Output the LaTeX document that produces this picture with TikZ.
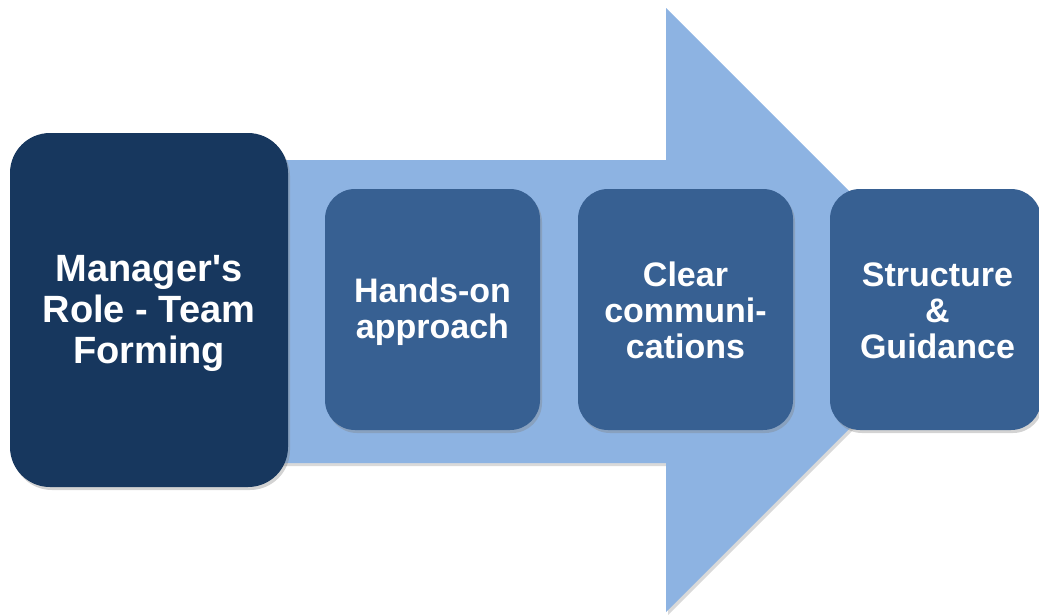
\documentclass[tikz,border=0pt]{standalone}
\usepackage{fontspec}
\setmainfont{Liberation Sans}
\usetikzlibrary{shadows}
\definecolor{arrowblue}{RGB}{141,179,226}
\definecolor{darknavy}{RGB}{23,55,94}
\definecolor{midblue}{RGB}{55,96,146}
\tikzset{
  stepbox/.style={rectangle, rounded corners=30pt, fill=midblue, draw=none,
    minimum width=215pt, minimum height=241pt, inner sep=0pt,
    drop shadow={opacity=0.35, shadow xshift=2pt, shadow yshift=-3pt}},
  mainbox/.style={stepbox, fill=darknavy, rounded corners=40pt,
    minimum width=278pt, minimum height=354pt},
  steptext/.style={text=white, align=center, inner sep=0pt,
    font=\bfseries\fontsize{34}{36}\selectfont},
  maintext/.style={steptext, font=\bfseries\fontsize{38}{41}\selectfont},
}
\begin{document}
\begin{tikzpicture}[x=1pt,y=-1pt]
\useasboundingbox (0,0) rectangle (1039,614);
\fill[arrowblue, drop shadow={opacity=0.3, shadow xshift=2pt, shadow yshift=-3pt}]
  (150,160) -- (666,160) -- (666,8) -- (968,310) -- (666,612) -- (666,463) -- (150,463) -- cycle;
\node[mainbox] (m) at (149,310) {};
\node[stepbox] (h) at (432.5,309.5) {};
\node[stepbox] (c) at (685.5,309.5) {};
\node[stepbox, minimum width=211pt] (s) at (935.5,309.5) {};
\node[maintext] (mt) at ([yshift=-3pt]m.center) {Manager\textquotesingle s\\Role - Team\\Forming};
\node[steptext] (ht) at ([yshift=-2.5pt]h.center) {Hands-on\\approach};
\node[steptext] (ct) at ([yshift=-1pt]c.center) {Clear\\communi-\\cations};
\node[steptext] (st) at ([xshift=2pt,yshift=-1pt]s.center) {Structure\\\&\\Guidance};
\end{tikzpicture}
\end{document}
